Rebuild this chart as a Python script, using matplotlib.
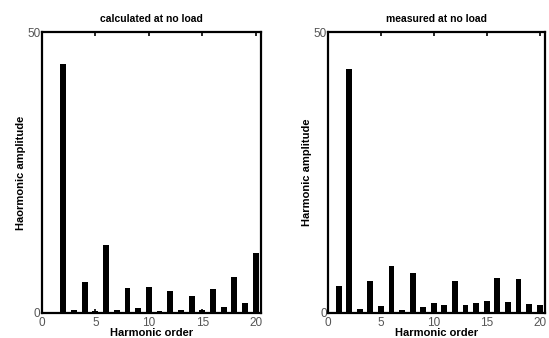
import matplotlib
matplotlib.use('Agg')
import matplotlib.pyplot as plt

plt.rcParams['font.family'] = ['Liberation Sans', 'DejaVu Sans']

# Harmonic orders and amplitudes
orders = list(range(1, 21))
calculated = [0, 44.4, 0.6, 5.6, 0.4, 12.1, 0.6, 4.4, 0.8, 4.7,
              0.4, 3.9, 0.6, 3.0, 0.55, 4.2, 1.0, 6.35, 1.7, 10.6]
measured = [4.8, 43.4, 0.75, 5.7, 1.2, 8.4, 0.55, 7.2, 1.1, 1.8,
            1.5, 5.7, 1.5, 1.8, 2.1, 6.2, 2.0, 6.1, 1.6, 1.4]
titles = ['calculated at no load', 'measured at no load']
ylabels = ['Haormonic amplitude', 'Harmonic amplitude']

fig = plt.figure(figsize=(5.49, 3.38), dpi=100)
ax1 = fig.add_axes([0.0765, 0.074, 0.399, 0.831])
ax2 = fig.add_axes([0.5975, 0.074, 0.395, 0.831])

for ax, vals, title, ylab in zip([ax1, ax2], [calculated, measured], titles, ylabels):
    ax.bar(orders, vals, width=0.55, color='black')
    ax.set_xlim(0, 20.5)
    ax.set_ylim(0, 50)
    ax.set_xticks([0, 5, 10, 15, 20])
    ax.set_yticks([0, 50])
    ax.tick_params(direction='in', length=3, width=1.2, top=True, right=False,
                   labelsize=8.5, labelcolor='#555555')
    ax.tick_params(axis='x', pad=3)
    ax.tick_params(axis='y', pad=1)
    for s in ax.spines.values():
        s.set_linewidth(1.6)
    ax.set_title(title, fontsize=7.5, fontweight='bold', pad=7)
    ax.set_xlabel('Harmonic order', fontsize=8, fontweight='bold', labelpad=-1)
    ax.set_ylabel(ylab, fontsize=8, fontweight='bold', labelpad=1)

fig.savefig('out.png', dpi=100)
